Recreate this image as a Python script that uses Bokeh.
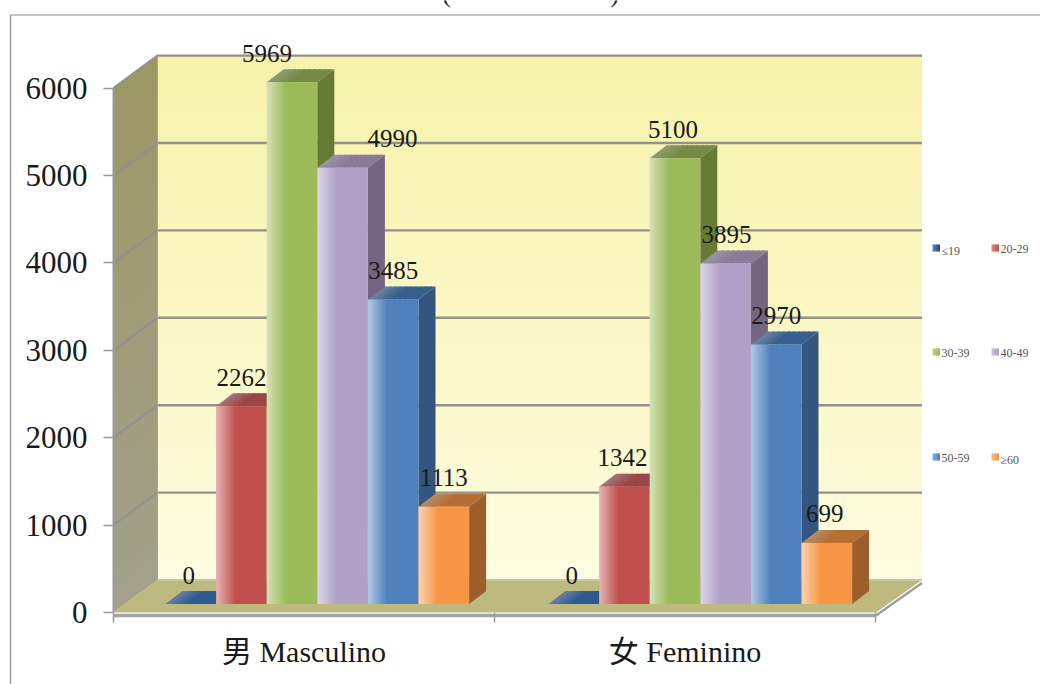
from bokeh.plotting import figure
from bokeh.models import Range1d, LinearAxis, FixedTicker
from bokeh.core.properties import value
from bokeh.embed import file_html
from bokeh.resources import INLINE

# ---- data ----
categories = ["男 Masculino", "女 Feminino"]
series_names = ["≤19", "20-29", "30-39", "40-49", "50-59", "≥60"]
male = [0, 2262, 5969, 4990, 3485, 1113]
female = [0, 1342, 5100, 3895, 2970, 699]
y_ticks = [0, 1000, 2000, 3000, 4000, 5000, 6000]

# ---- styles ----
front_cols = ["#1F497D", "#C0504D", "#9BBB59", "#B1A0C7", "#4F81BD", "#F79646"]
side_cols = ["#17375E", "#8E3B39", "#667A36", "#746580", "#33557F", "#9C5E2B"]
top_cols = ["#2F5A90", "#9A4645", "#758B45", "#8B7B9A", "#38608F", "#B56F32"]
male_label_shift = [-3, -1, -26, 49, -1, -1]
female_label_shift = [-3, -3, -3, 0, -1, -3]
SERIF = 'Liberation Serif, "Noto Sans CJK TC"'

# ---- geometry: screen pixel <-> data helpers ----
X0, UX = 113.0, 381.0      # screen x of category 0, px per category
Y0, UY = 612.0, 0.0874     # screen y of value 0, px per value unit
FW, FH = 1040, 684
DX, DY = 44.0, 32.5        # depth of the chart box, px
BW, BDX, BDY = 50.6, 17.0, 13.0  # bar width, bar depth, px
BASE_UP = 8.5              # bar base above front floor edge, px
GROUP_LEFT = [165.0, 548.0]

def sx(px): return (px - X0) / UX
def sy(py): return (Y0 - py) / UY
def wx(px): return px / UX
def wy(px): return px / UY

def mix(c1, c2, t):
    a = [int(c1[i:i + 2], 16) for i in (1, 3, 5)]
    b = [int(c2[i:i + 2], 16) for i in (1, 3, 5)]
    return "#%02x%02x%02x" % tuple(round(a[k] + (b[k] - a[k]) * t) for k in range(3))

p = figure(width=FW, height=FH, output_backend="svg", toolbar_location=None,
           x_axis_type=None, y_axis_type=None,
           x_range=Range1d(sx(0), sx(FW)), y_range=Range1d(sy(FH), sy(0)),
           min_border=0, min_border_left=0, min_border_right=0,
           min_border_top=0, min_border_bottom=0,
           background_fill_color="white", border_fill_color="white")
p.outline_line_color = None
p.grid.visible = False

# outer chart border
p.line([sx(10), sx(10), sx(FW)], [sy(FH), sy(14.5), sy(14.5)], line_color="#8E8E8E", line_width=1.2)

# clipped remains of the title, as in the reference
p.text([sx(446), sx(614)], [sy(-7), sy(-7)], text=["(", ")"], text_font=value(SERIF), text_font_size="26px",
       text_align="center", text_baseline="middle", text_color="#1A1A1A")

# back wall (vertical gradient)
back_l, back_r = wx(DX), sx(921.5)
n = 40
top_val = 6000
for i in range(n):
    v0, v1 = top_val * i / n, min(top_val * (i + 1.5) / n, top_val)
    p.quad(left=back_l, right=back_r, bottom=v0 + wy(DY), top=v1 + wy(DY),
           fill_color=mix("#FEFCE0", "#F6F2AA", (i + .5) / n), line_color=None)

# side wall (vertical gradient)
for i in range(n):
    v0, v1 = top_val * i / n, min(top_val * (i + 1.5) / n, top_val)
    p.patch([0, wx(DX), wx(DX), 0], [v0, v0 + wy(DY), v1 + wy(DY), v1],
            fill_color=mix("#A3A08C", "#9C9866", (i + .5) / n), line_color=None)

# floor
p.patch([0, wx(DX), back_r, sx(875.5)], [0, wy(DY), wy(DY), 0], fill_color="#BDB97F", line_color=None)
p.line([wx(DX), back_r], [wy(DY), wy(DY)], line_color="#C9C6A4", line_width=2)

# gridlines on walls
for t in y_ticks[1:]:
    p.line([0, wx(DX), back_r], [t, t + wy(DY), t + wy(DY)], line_color="#92928A", line_width=2.4)
p.line([wx(DX), wx(DX)], [0 + wy(DY), 6000 + wy(DY)], line_color="#A8A68C", line_width=1)

# floor front edge and right edge
p.line([sx(875.5), back_r], [-wy(3), wy(DY) - wy(3)], line_color="#9E9E9E", line_width=2.5)
p.line([0, sx(875.5)], [-wy(3), -wy(3)], line_color="#A3A3A3", line_width=3.5)


def draw_bar(left_px, val, k):
    base = wy(BASE_UP)
    l, w = sx(left_px), wx(BW)
    dxx, dyy = wx(BDX), wy(BDY)
    v = base + val
    # top face gradient strips
    m = 10
    for j in range(m):
        t = (j + .5) / m
        c = mix(mix(top_cols[k], "#B0B0B0", .45), top_cols[k], min(t / .45, 1))
        a = l + w * j / m
        b = l + w * min(j + 1.4, m) / m
        p.patch([a, b, b + dxx, a + dxx], [v, v, v + dyy, v + dyy], fill_color=c, line_color=None)
    # side face
    p.patch([l + w, l + w + dxx, l + w + dxx, l + w],
            [base, base + dyy, v + dyy, v], fill_color=side_cols[k], line_color=None)
    # front face gradient strips
    if val > 0:
        for j in range(m * 2):
            t = (j + .5) / (m * 2)
            c = mix(mix(front_cols[k], "#FFFFFF", .58), front_cols[k], min(t / .38, 1))
            p.quad(left=l + w * j / (m * 2), right=l + w * min(j + 1.5, m * 2) / (m * 2),
                   bottom=base, top=v, fill_color=c, line_color=None)


label_x, label_y, label_t = [], [], []
for vals, shifts, left in ((male, male_label_shift, GROUP_LEFT[0]),
                           (female, female_label_shift, GROUP_LEFT[1])):
    for k, val in enumerate(vals):
        bar_left = left + k * BW
        draw_bar(bar_left, val, k)
        label_x.append(sx(bar_left + BW / 2 + shifts[k] + 1))
        label_y.append(wy(BASE_UP) + val + wy(29))
        label_t.append(str(val))

p.text(label_x, label_y, text=label_t, text_font=value(SERIF), text_font_size="25px",
       text_align="center", text_baseline="middle", text_color="#1A1A1A")

# axes
yaxis = LinearAxis(fixed_location=0, ticker=FixedTicker(ticks=y_ticks), bounds=(0, 6000))
yaxis.axis_line_color = "#9A9AA0"
yaxis.axis_line_width = 2
yaxis.major_tick_line_color = "#9A9A9A"
yaxis.major_tick_line_width = 1.5
yaxis.major_tick_in = 0
yaxis.major_tick_out = 10
yaxis.minor_tick_line_color = None
yaxis.major_label_standoff = 16
yaxis.major_label_text_font = SERIF
yaxis.major_label_text_font_size = "31px"
yaxis.major_label_text_color = "#1A1A1A"
p.add_layout(yaxis, "left")

xaxis = LinearAxis(fixed_location=0, bounds=(0, 2),
                   ticker=FixedTicker(ticks=[0.5, 1.5], minor_ticks=[0, 1, 2]))
xaxis.major_label_overrides = {0.5: categories[0], 1.5: categories[1]}
xaxis.axis_line_color = None
xaxis.major_tick_line_color = None
xaxis.major_tick_in = 0
xaxis.major_tick_out = 0
xaxis.minor_tick_line_color = "#9A9A9A"
xaxis.minor_tick_line_width = 1.5
xaxis.minor_tick_in = 0
xaxis.minor_tick_out = 10
xaxis.major_label_standoff = 12
xaxis.major_label_text_font = SERIF
xaxis.major_label_text_font_size = "30px"
xaxis.major_label_text_color = "#1A1A1A"
p.add_layout(xaxis, "below")

# legend (two columns, three rows)
col_x = [932, 991]
row_y = [247.5, 351.5, 456.5]
for idx, name in enumerate(series_names):
    cx, ry = col_x[idx % 2], row_y[idx // 2]
    sw = 7.5
    for j in range(4):
        c = mix(mix(front_cols[idx], "#FFFFFF", .3), front_cols[idx], j / 3)
        p.quad(left=sx(cx + sw * j / 4), right=sx(cx + sw * (j + 1.3) / 4 if j < 3 else cx + sw),
               bottom=sy(ry + 3.5), top=sy(ry - 3.5), fill_color=c, line_color=None)
    low = 3 if name[0] in "≤≥" else 1
    p.text([sx(cx + 9)], [sy(ry + low)], text=[name], text_font=value(SERIF), text_font_size="12px",
           text_align="left", text_baseline="middle", text_color="#555555")

open("out.html", "w").write(file_html(p, INLINE))
